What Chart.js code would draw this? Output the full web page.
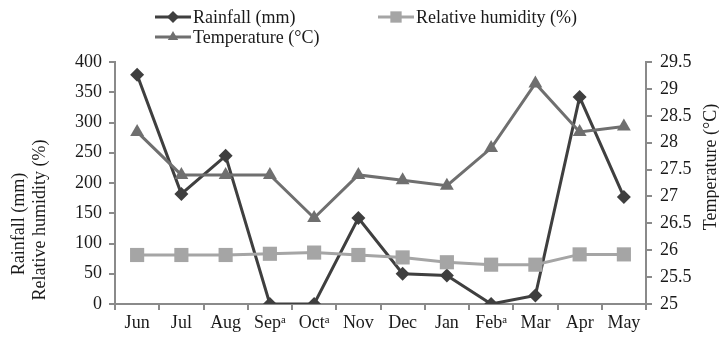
<!DOCTYPE html>
<html>
<head>
<meta charset="utf-8">
<script src="https://cdn.jsdelivr.net/npm/chart.js@4/dist/chart.umd.min.js"></script>
<style>
  html, body { margin: 0; padding: 0; background: #fff; }
</style>
</head>
<body>
<canvas id="climateChart" width="719" height="339"></canvas>
<script>
//values
var months = ['Jun', 'Jul', 'Aug', 'Sep\u1d43', 'Oct\u1d43', 'Nov', 'Dec', 'Jan', 'Feb\u1d43', 'Mar', 'Apr', 'May'];
var rainfall = [379, 182, 245, 0, 0, 142, 50, 47, 0, 14, 342, 177];
var humidity = [81, 81, 81, 83, 85, 81, 77, 69, 65, 65, 82, 82];
var temperature = [28.2, 27.4, 27.4, 27.4, 26.6, 27.4, 27.3, 27.2, 27.9, 29.1, 28.2, 28.3];
var seriesNames = ['Rainfall (mm)', 'Relative humidity (%)', 'Temperature (\u00b0C)'];
var leftTitle = ['Rainfall (mm)', 'Relative humidity (%)'];
var rightTitle = 'Temperature (\u00b0C)';

var serif = '"Liberation Serif", "Times New Roman", "DejaVu Serif", serif';
var axisGrey = '#8a8a8a';
var textColor = '#1a1a1a';

//legend drawn by hand: line + marker + text, two rows like the original
var legendSlots = [
    { x: 155, y: 17 },
    { x: 378, y: 17 },
    { x: 155, y: 37 }
];

function verticalText(ctx, text, x, y) {
    ctx.save();
    ctx.translate(x, y);
    ctx.rotate(-Math.PI / 2);
    ctx.fillStyle = textColor;
    ctx.font = '18px ' + serif;
    ctx.textAlign = 'center';
    ctx.textBaseline = 'middle';
    ctx.fillText(text, 0, 0);
    ctx.restore();
}

const lineLegend = {
    id: 'lineLegend',
    afterDraw: function (chart) {
        var ctx = chart.ctx;
        chart.data.datasets.forEach(function (ds, i) {
            var s = legendSlots[i];
            ctx.save();
            ctx.strokeStyle = ds.borderColor;
            ctx.lineWidth = ds.borderWidth;
            ctx.beginPath();
            ctx.moveTo(s.x, s.y);
            ctx.lineTo(s.x + 36, s.y);
            ctx.stroke();
            ctx.fillStyle = ds.backgroundColor;
            Chart.helpers.drawPoint(ctx, {
                pointStyle: ds.pointStyle,
                radius: ds.legendRadius,
                rotation: 0,
                borderWidth: 0
            }, s.x + 18, s.y);
            ctx.fillStyle = textColor;
            ctx.font = '18px ' + serif;
            ctx.textBaseline = 'middle';
            ctx.textAlign = 'left';
            ctx.fillText(ds.label, s.x + 38, s.y + 1);
            ctx.restore();
        });

        //axis titles sit lower than the plot centre in the original
        verticalText(ctx, leftTitle[0], 19, 224);
        verticalText(ctx, leftTitle[1], 40, 220);
        verticalText(ctx, rightTitle, 711, 167);
    }
};

const climateChart = new Chart(document.getElementById('climateChart'), {
    type: 'line',
    data: {
        labels: months,
        datasets: [{
            label: seriesNames[0],
            data: rainfall,
            yAxisID: 'y',
            borderColor: '#3f3f3f',
            backgroundColor: '#3f3f3f',
            borderWidth: 3,
            pointStyle: 'rectRot',
            pointRadius: 7,
            pointBorderWidth: 0,
            legendRadius: 6,
            order: 3
        }, {
            label: seriesNames[1],
            data: humidity,
            yAxisID: 'y',
            borderColor: '#a5a5a5',
            backgroundColor: '#a5a5a5',
            borderWidth: 3,
            pointStyle: 'rect',
            pointRadius: 10,
            pointBorderWidth: 0,
            legendRadius: 8,
            order: 2
        }, {
            label: seriesNames[2],
            data: temperature,
            yAxisID: 'y1',
            borderColor: '#6f6f6f',
            backgroundColor: '#6f6f6f',
            borderWidth: 3,
            pointStyle: 'triangle',
            pointRadius: 8,
            pointBorderWidth: 0,
            legendRadius: 6,
            order: 1
        }]
    },
    options: {
        responsive: false,
        animation: false,
        layout: {
            padding: { top: 62, left: 4, right: 0, bottom: 0 }
        },
        plugins: {
            legend: { display: false },
            tooltip: { enabled: false }
        },
        scales: {
            x: {
                offset: true,
                grid: {
                    offset: true,
                    drawOnChartArea: false,
                    color: axisGrey,
                    lineWidth: 2,
                    tickLength: 6
                },
                border: { color: axisGrey, width: 2 },
                ticks: {
                    color: textColor,
                    font: { family: serif, size: 18 },
                    padding: 2,
                    maxRotation: 0,
                    autoSkip: false
                },
                afterFit: function (scale) { scale.height = 35; }
            },
            y: {
                position: 'left',
                min: 0,
                max: 400,
                ticks: {
                    stepSize: 50,
                    color: textColor,
                    font: { family: serif, size: 18 },
                    padding: 7
                },
                grid: {
                    drawOnChartArea: false,
                    color: axisGrey,
                    lineWidth: 2,
                    tickLength: 6
                },
                border: { color: axisGrey, width: 2 },
                afterFit: function (scale) { scale.width = 111; }
            },
            y1: {
                position: 'right',
                min: 25,
                max: 29.5,
                ticks: {
                    stepSize: 0.5,
                    color: textColor,
                    font: { family: serif, size: 18 },
                    padding: 8,
                    callback: function (v) { return '' + v; }
                },
                grid: {
                    drawOnChartArea: false,
                    color: axisGrey,
                    lineWidth: 2,
                    tickLength: 6
                },
                border: { color: axisGrey, width: 2 },
                afterFit: function (scale) { scale.width = 73; }
            }
        }
    },
    plugins: [lineLegend]
});
</script>
</body>
</html>
